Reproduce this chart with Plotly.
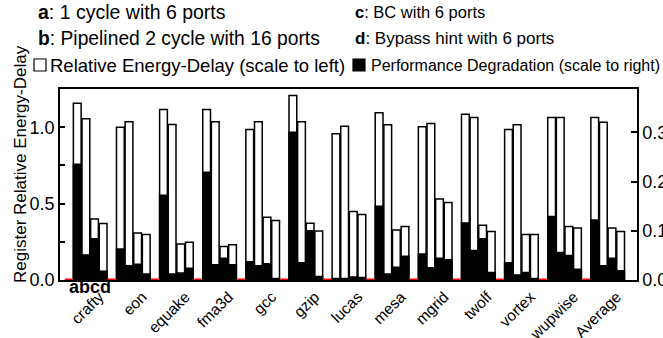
import plotly.graph_objects as go

# ---------------- data ----------------
benchmarks = ["crafty", "eon", "equake", "fma3d", "gcc", "gzip", "lucas",
              "mesa", "mgrid", "twolf", "vortex", "wupwise", "Average"]
configs = ["a", "b", "c", "d"]

# Relative Energy-Delay (left axis), one list per configuration
ed_a = [1.156, 1.000, 1.116, 1.116, 0.985, 1.208, 0.957, 1.094, 1.003, 1.085, 0.985, 1.064, 1.064]
ed_b = [1.055, 1.035, 1.018, 1.035, 1.035, 1.035, 1.007, 1.016, 1.024, 1.064, 1.016, 1.064, 1.033]
ed_c = [0.400, 0.307, 0.236, 0.219, 0.410, 0.372, 0.448, 0.328, 0.530, 0.359, 0.297, 0.350, 0.341]
ed_d = [0.370, 0.297, 0.247, 0.230, 0.390, 0.320, 0.429, 0.350, 0.507, 0.317, 0.297, 0.341, 0.317]

# Performance Degradation (right axis)
pd_a = [0.235, 0.063, 0.172, 0.219, 0.037, 0.300, 0.003, 0.150, 0.053, 0.116, 0.035, 0.129, 0.122]
pd_b = [0.051, 0.029, 0.012, 0.031, 0.029, 0.035, 0.003, 0.012, 0.025, 0.060, 0.010, 0.056, 0.029]
pd_c = [0.084, 0.032, 0.014, 0.044, 0.033, 0.100, 0.006, 0.026, 0.044, 0.084, 0.015, 0.050, 0.044]
pd_d = [0.018, 0.012, 0.024, 0.031, 0.003, 0.007, 0.005, 0.048, 0.041, 0.015, 0.003, 0.022, 0.019]

left_ticks = [0.0, 0.25, 0.5, 0.75, 1.0, 1.25]
left_labels = ["0.0", "", "0.5", "", "1.0", ""]
right_ticks = [0.0, 0.1, 0.2, 0.3]
right_labels = ["0.0", "0.1", "0.2", "0.3"]

# ---------------- layout constants ----------------
W, H = 663, 338
L, R, T, B = 60, 637, 89, 280
SLOTS = 5  # 4 bars + 1 gap per benchmark
FONT = "Liberation Sans, Arial, sans-serif"

def fx(px):
    return (px - L) / (R - L)

def fy(py):
    return (B - py) / (B - T)

ed_series = [ed_a, ed_b, ed_c, ed_d]
pd_series = [pd_a, pd_b, pd_c, pd_d]

xs, eds, pds = [], [], []
for g, _ in enumerate(benchmarks):
    for i in range(len(configs)):
        xs.append(g * SLOTS + i)
        eds.append(ed_series[i][g])
        pds.append(pd_series[i][g])

fig = go.Figure()

fig.add_trace(go.Bar(x=xs, y=eds, width=0.9, yaxis="y",
                     marker=dict(color="white", line=dict(color="black", width=1.5)),
                     name="Relative Energy-Delay (scale to left)", showlegend=False))
fig.add_trace(go.Bar(x=xs, y=pds, width=0.9, yaxis="y2",
                     marker=dict(color="black", line=dict(color="black", width=1.5)),
                     name="Performance Degradation (scale to right)", showlegend=False))

# red baseline markers in the gaps before each benchmark group
gx, gy = [], []
for g, _ in enumerate(benchmarks):
    gx += [g * SLOTS - 1.45, g * SLOTS - 0.55, None]
    gy += [0, 0, None]
fig.add_trace(go.Scatter(x=gx, y=gy, yaxis="y2", mode="lines",
                         line=dict(color="#ff0000", width=3),
                         cliponaxis=False, showlegend=False, hoverinfo="skip"))

tickx = [g * SLOTS + 1.5 for g in range(len(benchmarks))]

fig.update_layout(
    width=W, height=H,
    margin=dict(l=L, r=W - R, t=T, b=H - B, autoexpand=False),
    paper_bgcolor="white", plot_bgcolor="white",
    barmode="overlay",
    font=dict(family=FONT, size=15, color="black"),
    xaxis=dict(range=[-2.0, 64.9], tickvals=tickx, ticktext=benchmarks, tickangle=-45,
               ticks="", ticklabelstandoff=0, ticklabelshift=9, tickfont=dict(size=15.5),
               showline=True, linecolor="black", linewidth=1.5, mirror=True,
               showgrid=False, zeroline=False, layer="below traces", automargin=False),
    yaxis=dict(range=[0, 1.25], tickvals=left_ticks, ticktext=left_labels,
               ticks="inside", ticklen=5, tickwidth=1.5, tickcolor="black",
               tickfont=dict(size=18),
               showline=True, linecolor="black", linewidth=1.5,
               showgrid=False, zeroline=False, automargin=False),
    yaxis2=dict(range=[0, 0.388], tickvals=right_ticks, ticktext=right_labels,
                overlaying="y", side="right",
                ticks="inside", ticklen=6, tickwidth=1.5, tickcolor="black",
                tickfont=dict(size=18),
                showline=True, linecolor="black", linewidth=1.5,
                showgrid=False, zeroline=False, automargin=False),
)

ann = []
def text(px, py, s, size=18.5, anchor="left", **kw):
    ann.append(dict(x=fx(px), y=fy(py), xref="paper", yref="paper", text=s,
                    showarrow=False, xanchor=anchor, yanchor="middle",
                    font=dict(family=FONT, size=size, color="black"), **kw))

text(36, 12, "<b>a</b>: 1 cycle with 6 ports", size=19.5)
text(353, 12, "<b>c</b>: BC with 6 ports", size=16.5)
text(36, 38, "<b>b</b>: Pipelined 2 cycle with 16 ports", size=19.3)
text(353, 38, "<b>d</b>: Bypass hint with 6 ports", size=17)
text(48, 65, "Relative Energy-Delay (scale to left)", size=18.5)
text(369, 65, "Performance Degradation (scale to right)", size=16)
text(20, 164, "Register Relative Energy-Delay", size=17, anchor="center", textangle=-90)
# config letters under the first group
ann.append(dict(x=tickx[0], y=0, xref="x", yref="paper", yshift=-7, text="<b>abcd</b>",
                showarrow=False, xanchor="center", yanchor="middle",
                font=dict(family=FONT, size=18, color="black")))

shapes = [
    dict(type="rect", xref="paper", yref="paper", x0=fx(34), x1=fx(46), y0=fy(71), y1=fy(59),
         line=dict(color="black", width=1.2), fillcolor="white"),
    dict(type="rect", xref="paper", yref="paper", x0=fx(353), x1=fx(365), y0=fy(71), y1=fy(59),
         line=dict(color="black", width=1.2), fillcolor="black"),
]
fig.update_layout(annotations=ann, shapes=shapes)

# remove the default 8px page margin so the figure sits at the window origin
fig.write_html("out.html", config={"displayModeBar": False},
               post_script="document.body.style.margin='0';")
